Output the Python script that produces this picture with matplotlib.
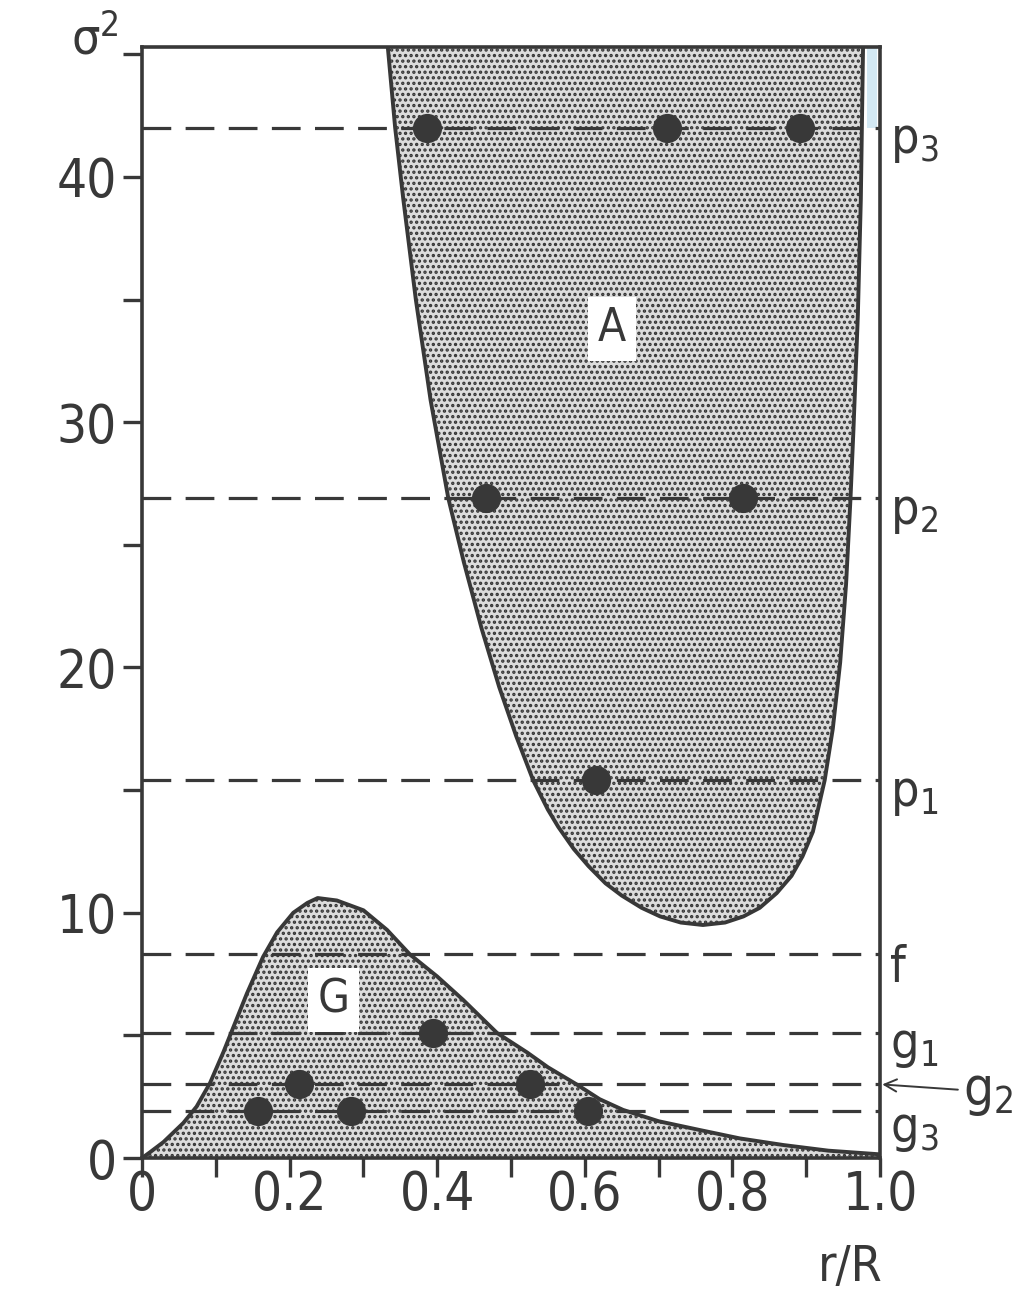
import matplotlib
matplotlib.use('Agg')
import matplotlib.pyplot as plt
from matplotlib import font_manager
from matplotlib.ticker import MultipleLocator

# narrow sans if we have it, otherwise condensed DejaVu
try:
    font_manager.findfont('Liberation Sans Narrow', fallback_to_default=False)
    fam, stretch = 'Liberation Sans Narrow', 'normal'
except ValueError:
    fam, stretch = 'DejaVu Sans', 'condensed'

plt.rcParams['font.family'] = [fam, 'DejaVu Sans']
plt.rcParams['font.stretch'] = stretch
plt.rcParams['mathtext.fontset'] = 'custom'
plt.rcParams['mathtext.rm'] = fam
plt.rcParams['mathtext.it'] = fam
plt.rcParams['mathtext.sf'] = fam
plt.rcParams['hatch.color'] = '#333333'
plt.rcParams['hatch.linewidth'] = 1.6

ink = '#383838'

# acoustic region boundary (A), top-left -> bottom -> top-right
a_x = [0.333, 0.343, 0.354, 0.371, 0.391, 0.415, 0.436, 0.460, 0.484, 0.507, 0.530, 0.550,
       0.564, 0.585, 0.605, 0.628, 0.650, 0.677, 0.702, 0.730, 0.760,
       0.790, 0.815, 0.837, 0.860, 0.880, 0.895, 0.909, 0.925, 0.936, 0.946, 0.954,
       0.960, 0.964, 0.970, 0.974, 0.977]
a_y = [45.3, 42.0, 39.1, 35.0, 30.9, 26.9, 24.3, 21.6, 19.2, 17.2, 15.4, 14.2,
       13.5, 12.6, 11.9, 11.2, 10.7, 10.2, 9.85, 9.6, 9.5,
       9.6, 9.85, 10.2, 10.8, 11.5, 12.3, 13.3, 15.4, 17.5, 20.2, 23.4,
       26.9, 29.7, 34.4, 39.1, 45.3]

# gravity region boundary (G)
g_x = [0.0, 0.011, 0.029, 0.056, 0.074, 0.092, 0.110, 0.124, 0.142, 0.164, 0.183, 0.205,
       0.224, 0.238, 0.264, 0.300, 0.332, 0.363, 0.400, 0.435, 0.481, 0.522, 0.550,
       0.589, 0.620, 0.652, 0.700, 0.756, 0.810, 0.869, 0.930, 1.0]
g_y = [0.0, 0.24, 0.65, 1.43, 2.1, 3.05, 4.3, 5.35, 6.7, 8.2, 9.2, 10.0,
       10.4, 10.6, 10.5, 10.1, 9.3, 8.3, 7.4, 6.45, 5.1, 4.3, 3.7,
       3.0, 2.4, 1.96, 1.5, 1.14, 0.8, 0.53, 0.3, 0.15]

# mode frequencies and node positions
mode_names = ['p_3', 'p_2', 'p_1', 'f', 'g_1', 'g_2', 'g_3']
mode_sigma2 = [42.0, 26.9, 15.4, 8.3, 5.1, 3.0, 1.9]
mode_nodes = [[0.386, 0.712, 0.892],
              [0.466, 0.814],
              [0.615],
              [],
              [0.394],
              [0.213, 0.526],
              [0.157, 0.283, 0.604]]

ytop = 45.3

fig = plt.figure(figsize=(10.24, 12.92), dpi=100)
ax = fig.add_axes([0.1387, 0.1037, 0.7207, 0.86])

ax.fill(a_x, a_y, facecolor='#dcdcdc', edgecolor='#333333', hatch='...', linewidth=0, zorder=1)
ax.plot(a_x, a_y, color=ink, lw=2.8, zorder=3)
ax.fill_between(g_x, g_y, 0, facecolor='#dcdcdc', edgecolor='#333333', hatch='...', linewidth=0, zorder=1)
ax.plot(g_x, g_y, color=ink, lw=2.8, zorder=3)

# light blue scanner tint at top right
ax.fill_betweenx([mode_sigma2[0], ytop], a_x[-1] + 0.006, 0.996, color='#d3e9f4', lw=0, zorder=1)

for name, s2, nodes in zip(mode_names, mode_sigma2, mode_nodes):
    ax.plot([0, 1], [s2, s2], color=ink, lw=2.3, dashes=(9, 4.5), zorder=2)
    if nodes:
        ax.plot(nodes, [s2] * len(nodes), 'o', color=ink, ms=20, zorder=4)

for name, s2 in zip(mode_names, mode_sigma2):
    lab = name if '_' not in name else name[0] + r'$_{\mathrm{' + name[2] + '}}$'
    if name == 'g_2':
        ax.annotate(lab, xy=(1.003, s2), xytext=(1.113, s2 - 0.3), fontsize=38, color=ink,
                    va='center', ha='left', annotation_clip=False,
                    arrowprops=dict(arrowstyle='->', color=ink, lw=1.4,
                                    shrinkA=2, shrinkB=0, mutation_scale=22))
    elif name == 'g_3':
        ax.text(1.013, s2 - 0.75, lab, fontsize=36, color=ink, va='center', ha='left')
    else:
        ax.text(1.013, s2 - 0.55, lab, fontsize=36, color=ink, va='center', ha='left')

box = dict(facecolor='white', edgecolor='none', pad=7)
ax.text(0.637, 33.8, 'A', fontsize=33, color=ink, ha='center', va='center', bbox=box, zorder=5)
ax.text(0.259, 6.45, 'G', fontsize=33, color=ink, ha='center', va='center', bbox=box, zorder=5)

ax.set_xlim(0, 1)
ax.set_ylim(0, ytop)
ax.xaxis.set_major_locator(MultipleLocator(0.2))
ax.xaxis.set_minor_locator(MultipleLocator(0.1))
ax.yaxis.set_major_locator(MultipleLocator(10))
ax.yaxis.set_minor_locator(MultipleLocator(5))
xt = [0, 0.2, 0.4, 0.6, 0.8, 1.0]
ax.set_xticks(xt)
ax.set_xticklabels(['0', '0.2', '0.4', '0.6', '0.8', '1.0'])
ax.tick_params(which='both', direction='out', length=14, width=2.4, color=ink,
               labelsize=38, labelcolor=ink)
ax.tick_params(axis='x', which='major', pad=-6)
ax.tick_params(axis='y', which='major', pad=4)
for sp in ax.spines.values():
    sp.set_linewidth(2.6)
    sp.set_color(ink)

fig.text(0.093, 0.969, r'σ$^{\mathrm{2}}$', fontsize=36, color=ink, ha='center', va='center')
fig.text(0.83, 0.019, 'r/R', fontsize=36, color=ink, ha='center', va='center')

fig.savefig('out.png', dpi=100, facecolor='white')
